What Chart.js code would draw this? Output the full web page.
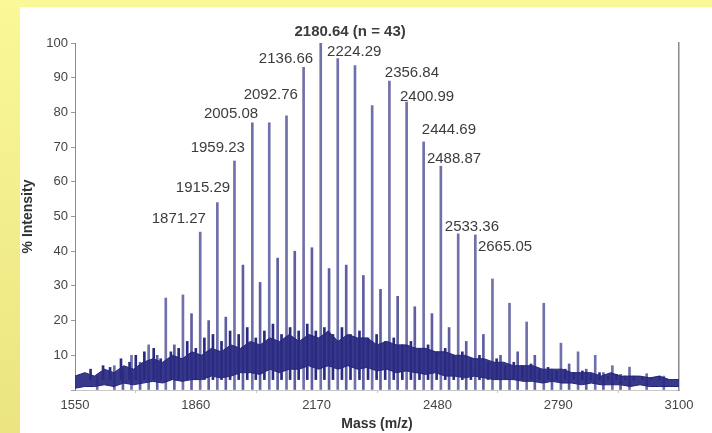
<!DOCTYPE html>
<html>
<head>
<meta charset="utf-8">
<script src="https://cdn.jsdelivr.net/npm/chart.js@4.4.1/dist/chart.umd.min.js"></script>
<style>
  html, body { margin: 0; padding: 0; }
  body { width: 712px; height: 433px; overflow: hidden; position: relative;
         background: linear-gradient(#faf897, #ebe480); }
  #panel { position: absolute; left: 20px; top: 7px; width: 692px; height: 426px; background: #fff; }
</style>
</head>
<body>
<div id="panel"><canvas id="spec" width="692" height="426"></canvas></div>
<script>
// axis ticks
const massTicks = [1550, 1860, 2170, 2480, 2790, 3100]

// main oligomer series (m/z, % intensity)
const mainMz = [1607, 1651, 1695, 1739, 1783, 1827, 1871.27, 1915.29, 1959.23, 2005.08, 2048.5, 2092.76,
  2136.66, 2180.64, 2224.29, 2268.5, 2312.6, 2356.84, 2400.99, 2444.69, 2488.87, 2533.36, 2577.3,
  2621.3, 2665.05, 2709, 2753, 2797, 2841, 2885, 2929, 2973, 3017, 3061]
const mainInt = [4, 7, 10, 13, 26.5, 27.4, 45.5, 54, 66, 77, 77, 79,
  93, 100, 95.5, 93.5, 82, 89, 83, 71.5, 64.5, 45, 44.7,
  32, 25, 19.6, 25, 13.5, 11, 10, 7, 6.6, 4.7, 4]

// second (smaller) series in between
const minorMz = [1673, 1717, 1761, 1805, 1849, 1893, 1937, 1981, 2025, 2070, 2114, 2158, 2202, 2246,
  2290, 2334, 2378, 2422, 2466, 2510, 2554, 2598, 2642, 2686, 2730, 2774, 2818, 2862, 2906, 2950]
const minorInt = [6, 8, 10, 13, 22, 20, 21, 36, 31, 38, 40, 41, 35, 36,
  33, 29, 27, 24, 22, 18, 14, 16, 10, 11, 10, 6, 7.5, 6, 5, 4.5]

// small spikes sticking out of the noise
const spikeMz = [1590, 1622, 1640, 1668, 1690, 1706, 1728, 1752, 1770, 1796, 1816, 1838, 1860, 1882,
  1904, 1926, 1948, 1970, 1992, 2014, 2036, 2058, 2080, 2102, 2124, 2146, 2168, 2190, 2212, 2235,
  2257, 2280, 2302, 2324, 2346, 2368, 2390, 2412, 2434, 2456, 2478, 2500, 2522, 2544, 2566, 2588,
  2610, 2632, 2654, 2676, 2698, 2720, 2742, 2764, 2786, 2808, 2830, 2852, 2874, 2896, 2918, 2940,
  2962, 2984, 3006, 3028, 3050, 3072]
const spikeInt = [6, 7, 6.5, 9, 8, 10, 11, 12, 9, 11, 12, 14, 12, 15,
  16, 14, 17, 16, 18, 15, 17, 19, 16, 18, 17, 19, 17, 18, 16, 18,
  16, 17, 15, 16, 14, 15, 13, 14, 12, 13, 11, 12, 10, 11, 9, 10,
  8, 9, 7, 8, 7, 7.5, 6, 6.5, 5.5, 6, 5, 5.5, 4.5, 5, 4, 4.5,
  4, 4, 3.5, 3.5, 4, 3]

// noise band (upper / lower edge)
const noiseMz = [1550, 1575, 1600, 1625, 1650, 1675, 1700, 1725, 1750, 1775, 1800, 1825, 1850, 1875,
  1900, 1925, 1950, 1975, 2000, 2025, 2050, 2075, 2100, 2125, 2150, 2175, 2200, 2225, 2250, 2275,
  2300, 2325, 2350, 2375, 2400, 2425, 2450, 2475, 2500, 2525, 2550, 2575, 2600, 2625, 2650, 2675,
  2700, 2725, 2750, 2775, 2800, 2825, 2850, 2875, 2900, 2925, 2950, 2975, 3000, 3025, 3050, 3075, 3100]
const noiseTop = [4, 5, 4, 6, 5, 7, 6, 8, 9, 8, 10, 9, 11, 10,
  12, 11, 13, 12, 14, 13, 15, 14, 16, 14, 16, 15, 17, 14, 16, 15,
  15, 13, 14, 13, 13, 12, 12, 11, 11, 10, 10, 9, 9, 8, 8, 7,
  7, 7, 6, 6, 6, 5, 5, 5, 4, 5, 4, 4, 4, 3.5, 4, 3, 3]
const noiseLow = [0.5, 1, 1, 1.5, 1, 2, 1.5, 2, 2.5, 2, 3, 2.5, 3, 3,
  4, 3.5, 4, 5, 5, 4.5, 6, 5, 6, 6, 7, 6, 7, 6, 7, 6,
  6.5, 5.5, 6, 5, 5.5, 5, 4.5, 5, 4, 4, 3.5, 4, 3.5, 3, 3, 3,
  2.5, 2.5, 2, 2.5, 2, 2, 1.5, 2, 1.5, 1.5, 1.5, 1, 1.5, 1, 1, 1, 1]

// peak annotations: text, anchor m/z, anchor intensity, alignment
const labelText = ['1871.27', '1915.29', '1959.23', '2005.08', '2092.76', '2136.66',
  '2224.29', '2356.84', '2400.99', '2444.69', '2488.87', '2533.36', '2665.05']
const labelMz = [1886, 1948, 1986, 2020, 2122, 2161, 2197, 2345, 2384, 2440, 2453, 2499, 2584]
const labelInt = [49.3, 58.2, 69.7, 79.5, 85, 95.4, 97.4, 91.4, 84.4, 74.9, 66.6, 47, 41.2]
const labelAlign = ['right', 'right', 'right', 'right', 'right', 'right',
  'left', 'left', 'left', 'left', 'left', 'left', 'left']
const topLabel = '2180.64 (n = 43)'
const topLabelMz = 2256
const topLabelInt = 103.2

const font = "'Liberation Sans', Arial, sans-serif"

const peakLabels = {
  id: 'peakLabels',
  afterDatasetsDraw(chart) {
    const ctx = chart.ctx
    const x = chart.scales.x, y = chart.scales.y
    ctx.save()
    ctx.fillStyle = '#3c3c3c'
    ctx.textBaseline = 'middle'
    ctx.font = '15px ' + font
    for (let i = 0; i < labelText.length; i++) {
      ctx.textAlign = labelAlign[i]
      ctx.fillText(labelText[i], x.getPixelForValue(labelMz[i]), y.getPixelForValue(labelInt[i]))
    }
    ctx.font = 'bold 15px ' + font
    ctx.textAlign = 'center'
    ctx.fillText(topLabel, x.getPixelForValue(topLabelMz), y.getPixelForValue(topLabelInt))
    ctx.restore()
  }
}

const sticks = (mz, vals) => mz.map((m, i) => ({ x: m, y: vals[i] }))

new Chart(document.getElementById('spec'), {
  data: {
    datasets: [
      {
        type: 'line', data: sticks(noiseMz, noiseLow),
        borderColor: '#23237a', borderWidth: 1, pointRadius: 0, fill: false, order: 1
      },
      {
        type: 'line', data: sticks(noiseMz, noiseTop),
        borderColor: '#23237a', borderWidth: 1, pointRadius: 0,
        backgroundColor: 'rgba(40,40,130,0.92)', fill: '-1', order: 1
      },
      {
        type: 'bar', data: sticks(spikeMz, spikeInt), base: 3,
        backgroundColor: '#2a2a80', barThickness: 2, grouped: false, order: 0
      },
      {
        type: 'bar', data: sticks(mainMz, mainInt),
        backgroundColor: '#7070aa', barThickness: 2, grouped: false, order: 2
      },
      {
        type: 'bar', data: sticks(minorMz, minorInt),
        backgroundColor: '#5e5ea0', barThickness: 2, grouped: false, order: 2
      }
    ]
  },
  options: {
    responsive: false,
    animation: false,
    devicePixelRatio: 1,
    layout: { padding: { top: 36, right: 33, left: 0, bottom: 0 } },
    plugins: { legend: { display: false }, tooltip: { enabled: false } },
    scales: {
      x: {
        type: 'linear', min: 1550, max: 3100, offset: false,
        afterBuildTicks: s => { s.ticks = massTicks.map(v => ({ value: v })) },
        afterFit: s => { s.height = 43 },
        grid: { drawOnChartArea: false, tickLength: 3, color: '#c8c8c8' },
        border: { color: '#c8c8c8' },
        ticks: { color: '#444', font: { family: font, size: 13 }, padding: 5, maxRotation: 0,
                 callback: v => String(v) },
        title: { display: true, text: 'Mass (m/z)', color: '#333', font: { family: font, size: 14, weight: 'bold' }, padding: 0 }
      },
      y: {
        min: 0, max: 100,
        afterFit: s => { s.width = 55 },
        grid: { drawOnChartArea: false, tickLength: 4, color: '#9a9a9a' },
        border: { color: '#8a8a8a' },
        ticks: {
          stepSize: 5, color: '#444', font: { family: font, size: 13 }, padding: 3,
          callback: v => (v % 10 === 0 && v > 0) ? v : ''
        },
        title: { display: true, text: '% Intensity', color: '#333', font: { family: font, size: 14, weight: 'bold' }, padding: 0 }
      },
      y2: {
        position: 'right', min: 0, max: 100,
        afterFit: s => { s.width = 0 },
        grid: { display: false },
        border: { color: '#8a8a8a', width: 1.5 },
        ticks: { display: false }
      }
    }
  },
  plugins: [peakLabels]
})
</script>
</body>
</html>
